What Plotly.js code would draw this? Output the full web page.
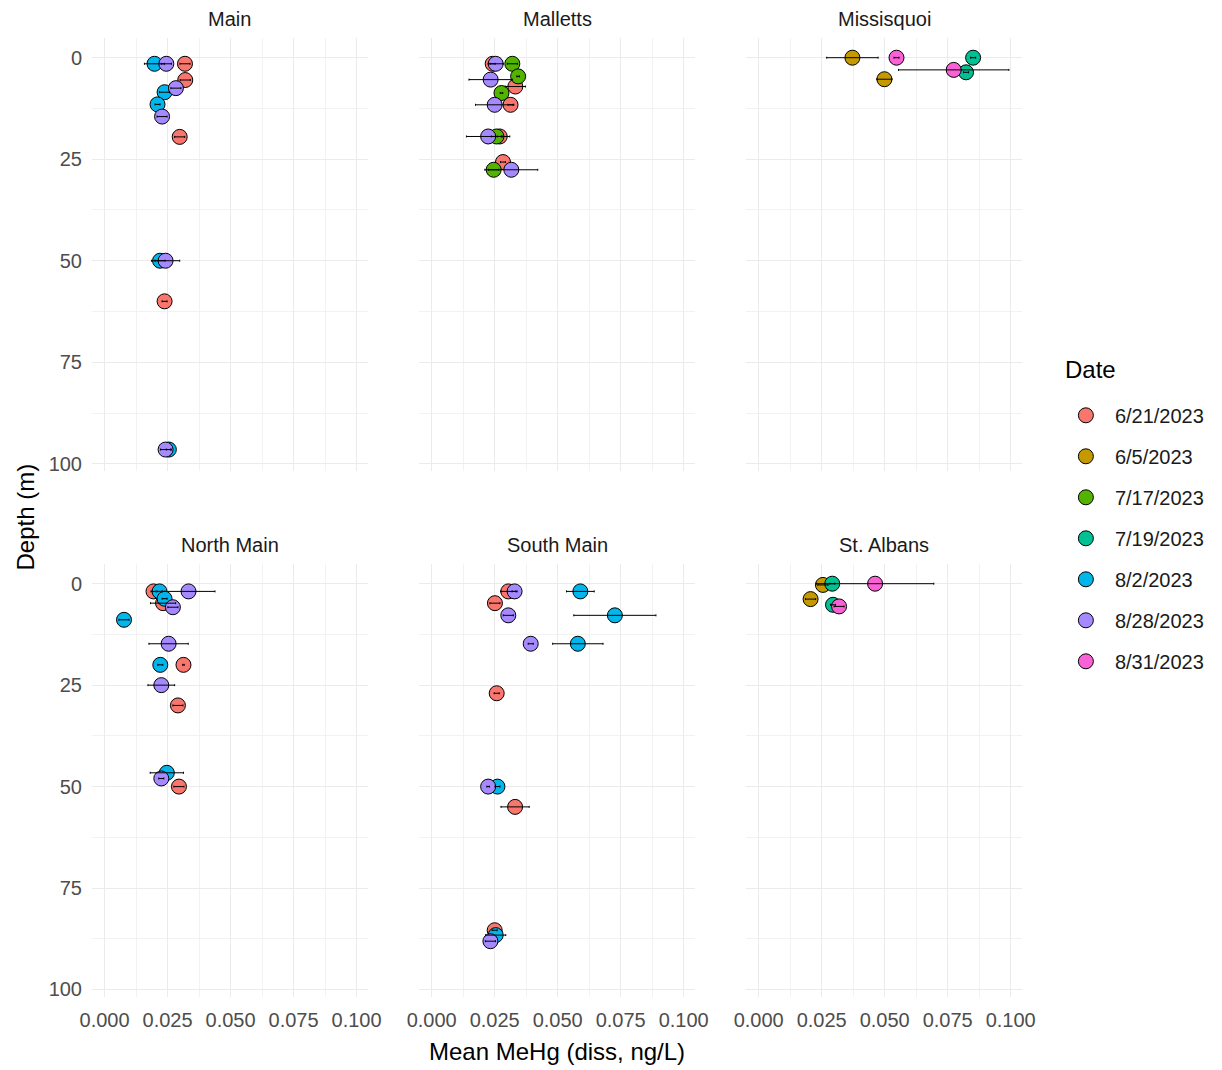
<!DOCTYPE html>
<html>
<head>
<meta charset="utf-8">
<script src="https://cdn.plot.ly/plotly-3.0.1.min.js"></script>
<style>html,body{margin:0;padding:0;background:#fff;}#chart{width:1222px;height:1070px;}</style>
</head>
<body>
<div id="chart"></div>
<script>
// ---- data ----
const sites = ['Main', 'Malletts', 'Missisquoi', 'North Main', 'South Main', 'St. Albans'];
const dates = ['6/21/2023', '6/5/2023', '7/17/2023', '7/19/2023', '8/2/2023', '8/28/2023', '8/31/2023'];

const site = [
  'Main','Main','Main','Main','Main','Main','Main','Main','Main','Main','Main','Main','Main','Main',
  'Malletts','Malletts','Malletts','Malletts','Malletts','Malletts','Malletts','Malletts','Malletts','Malletts','Malletts','Malletts','Malletts','Malletts','Malletts',
  'Missisquoi','Missisquoi','Missisquoi','Missisquoi','Missisquoi','Missisquoi',
  'North Main','North Main','North Main','North Main','North Main','North Main','North Main','North Main','North Main','North Main','North Main','North Main','North Main','North Main','North Main',
  'South Main','South Main','South Main','South Main','South Main','South Main','South Main','South Main','South Main','South Main','South Main','South Main','South Main','South Main','South Main',
  'St. Albans','St. Albans','St. Albans','St. Albans','St. Albans','St. Albans'
];
const date = [
  '8/2/2023','8/28/2023','6/21/2023','6/21/2023','8/28/2023','8/2/2023','8/2/2023','8/28/2023','6/21/2023','8/2/2023','8/28/2023','6/21/2023','8/2/2023','8/28/2023',
  '6/21/2023','8/28/2023','7/17/2023','7/17/2023','8/28/2023','6/21/2023','7/17/2023','8/28/2023','6/21/2023','8/28/2023','7/17/2023','6/21/2023','6/21/2023','7/17/2023','8/28/2023',
  '6/5/2023','8/31/2023','6/5/2023','7/19/2023','7/19/2023','8/31/2023',
  '6/21/2023','8/2/2023','8/28/2023','8/2/2023','6/21/2023','8/28/2023','8/2/2023','8/28/2023','8/2/2023','6/21/2023','8/28/2023','6/21/2023','8/2/2023','8/28/2023','6/21/2023',
  '6/21/2023','8/28/2023','8/2/2023','6/21/2023','8/28/2023','8/2/2023','8/28/2023','8/2/2023','6/21/2023','8/28/2023','8/2/2023','6/21/2023','6/21/2023','8/2/2023','8/28/2023',
  '6/5/2023','7/19/2023','8/31/2023','6/5/2023','7/19/2023','8/31/2023'
];
const depth = [
  1.5, 1.5, 1.5, 5.5, 7.5, 8.5, 11.5, 14.5, 19.5, 50, 50, 60, 96.5, 96.5,
  1.5, 1.5, 1.5, 4.6, 5.4, 7.1, 8.7, 11.6, 11.6, 19.4, 19.4, 19.4, 25.7, 27.6, 27.6,
  0, 0, 5.3, 0, 3.6, 3,
  1.9, 1.9, 1.9, 3.7, 4.8, 5.8, 8.9, 14.8, 20, 20, 25, 30, 46.6, 48, 50,
  1.9, 1.9, 1.9, 4.8, 7.8, 7.8, 14.8, 14.8, 27, 50, 50, 55, 85.4, 86.6, 88.1,
  0.3, 0, 0, 3.8, 5.2, 5.6
];
const mehg = [
  0.0198, 0.0245, 0.0319, 0.0320, 0.0283, 0.0238, 0.0210, 0.0228, 0.0298, 0.0220, 0.0242, 0.0238, 0.0255, 0.0242,
  0.0242, 0.0254, 0.0320, 0.0343, 0.0234, 0.0332, 0.0277, 0.0250, 0.0313, 0.0224, 0.0257, 0.0270, 0.0283, 0.0246, 0.0316,
  0.0372, 0.0547, 0.0499, 0.0851, 0.0823, 0.0774,
  0.0194, 0.0218, 0.0333, 0.0238, 0.0232, 0.0271, 0.0077, 0.0254, 0.0221, 0.0313, 0.0225, 0.0291, 0.0247, 0.0225, 0.0295,
  0.0304, 0.0329, 0.0590, 0.0251, 0.0304, 0.0727, 0.0393, 0.0580, 0.0258, 0.0224, 0.0261, 0.0331, 0.0250, 0.0254, 0.0233,
  0.0255, 0.0292, 0.0462, 0.0206, 0.0295, 0.0319
];
const sd = [
  0.0040, 0.0020, 0.0020, 0.0020, 0.0020, 0.0020, 0.0010, 0.0020, 0.0020, 0.0020, 0.0056, 0.0010, 0.0010, 0.0020,
  0.0010, 0.0030, 0.0020, 0.0005, 0.0086, 0.0040, 0.0005, 0.0076, 0.0010, 0.0086, 0.0020, 0.0010, 0.0010, 0.0020, 0.0105,
  0.0102, 0.0010, 0.0030, 0.0010, 0.0010, 0.0219,
  0.0010, 0.0010, 0.0105, 0.0010, 0.0050, 0.0020, 0.0020, 0.0078, 0.0010, 0.0003, 0.0053, 0.0020, 0.0066, 0.0010, 0.0020,
  0.0030, 0.0010, 0.0055, 0.0020, 0.0020, 0.0163, 0.0010, 0.0100, 0.0010, 0.0005, 0.0010, 0.0056, 0.0010, 0.0040, 0.0020,
  0.0020, 0.0010, 0.0233, 0.0020, 0.0010, 0.0020
];

const xTicks = [0, 0.025, 0.05, 0.075, 0.1];
const yTicks = [0, 25, 50, 75, 100];

// ---- styles ----
const dateColors = ['#F8766D', '#C49A00', '#53B400', '#00C094', '#00B6EB', '#A58AFF', '#FB61D7'];
const FONT = 'Liberation Sans, Arial, sans-serif';
const colDomains = [[0, 0.2967], [0.3517, 0.6484], [0.7033, 1]];
const rowDomains = [[0.5482, 1], [0, 0.4515]];

const traces = [];
const shownInLegend = {};
const layout = {
  width: 1222, height: 1070,
  margin: {l: 92.4, r: 199.7, t: 38, b: 72.5},
  paper_bgcolor: '#fff', plot_bgcolor: '#fff',
  font: {family: FONT, color: '#1A1A1A'},
  showlegend: true,
  legend: {
    x: 1.0375, xanchor: 'left', y: 0.6269, yanchor: 'top',
    font: {size: 20, color: '#1A1A1A'},
    tracegroupgap: 12, bgcolor: 'rgba(0,0,0,0)', itemwidth: 48
  },
  annotations: [],
  hovermode: false
};

sites.forEach((s, i) => {
  const col = i % 3, row = Math.floor(i / 3);
  const xa = i === 0 ? 'x' : 'x' + (i + 1);
  const ya = i === 0 ? 'y' : 'y' + (i + 1);
  const xkey = i === 0 ? 'xaxis' : 'xaxis' + (i + 1);
  const ykey = i === 0 ? 'yaxis' : 'yaxis' + (i + 1);
  layout[xkey] = {
    domain: colDomains[col], anchor: ya, range: [-0.005, 0.1045],
    tickmode: 'array', tickvals: xTicks, ticktext: xTicks.map(v => v.toFixed(3)),
    showticklabels: row === 1, ticks: '', ticklabelstandoff: 9,
    tickfont: {family: FONT, size: 20, color: '#4D4D4D'},
    showgrid: true, gridcolor: '#EBEBEB', gridwidth: 1,
    minor: {tickmode: 'array', tickvals: [0.0125, 0.0375, 0.0625, 0.0875], showgrid: true, gridcolor: '#EFEFEF', gridwidth: 0.8},
    zeroline: false, showline: false, fixedrange: true
  };
  layout[ykey] = {
    domain: rowDomains[row], anchor: xa, range: [101.85, -4.85],
    tickmode: 'array', tickvals: yTicks, ticktext: yTicks.map(String),
    showticklabels: col === 0, ticks: '', ticklabelstandoff: 9,
    tickfont: {family: FONT, size: 20, color: '#4D4D4D'},
    showgrid: true, gridcolor: '#EBEBEB', gridwidth: 1,
    minor: {tickmode: 'array', tickvals: [12.5, 37.5, 62.5, 87.5], showgrid: true, gridcolor: '#EFEFEF', gridwidth: 0.8},
    zeroline: false, showline: false, fixedrange: true
  };
  // strip label
  layout.annotations.push({
    text: s, xref: 'paper', yref: 'paper',
    x: (colDomains[col][0] + colDomains[col][1]) / 2, y: rowDomains[row][1],
    xanchor: 'center', yanchor: 'middle', yshift: 19, showarrow: false,
    font: {family: FONT, size: 20, color: '#1A1A1A'}
  });

  // points, one trace per date
  dates.forEach((d, k) => {
    const idx = [];
    site.forEach((ss, j) => { if (ss === s && date[j] === d) idx.push(j); });
    if (!idx.length) return;
    const first = !shownInLegend[d];
    shownInLegend[d] = true;
    traces.push({
      type: 'scatter', mode: 'markers', xaxis: xa, yaxis: ya,
      x: idx.map(j => mehg[j]), y: idx.map(j => depth[j]),
      name: d, legendgroup: d, showlegend: first, legendrank: k + 1,
      marker: {size: 15, color: dateColors[k], line: {color: '#000', width: 1}},
      cliponaxis: false
    });
  });
  // error bars (drawn on top of points)
  const all = [];
  site.forEach((ss, j) => { if (ss === s) all.push(j); });
  traces.push({
    type: 'scatter', mode: 'markers', xaxis: xa, yaxis: ya,
    x: all.map(j => mehg[j]), y: all.map(j => depth[j]),
    showlegend: false, hoverinfo: 'skip',
    marker: {size: 1, opacity: 0},
    error_x: {type: 'data', array: all.map(j => sd[j]), visible: true, color: '#000', thickness: 1, width: 1},
    cliponaxis: false
  });
});

// axis titles and legend title
layout.annotations.push({
  text: 'Mean MeHg (diss, ng/L)', xref: 'paper', yref: 'paper', x: 0.5, y: 0,
  xanchor: 'center', yanchor: 'middle', yshift: -54, showarrow: false,
  font: {family: FONT, size: 24, color: '#000'}
});
layout.annotations.push({
  text: 'Depth (m)', xref: 'paper', yref: 'paper', x: 0, y: 0.5, textangle: -90,
  xanchor: 'center', yanchor: 'middle', xshift: -67, showarrow: false,
  font: {family: FONT, size: 24, color: '#000'}
});
layout.annotations.push({
  text: 'Date', xref: 'paper', yref: 'paper', x: 1.0438, y: 1 - (370 - 38) / 959.5,
  xanchor: 'left', yanchor: 'middle', showarrow: false,
  font: {family: FONT, size: 24, color: '#000'}
});

Plotly.newPlot('chart', traces, layout, {displayModeBar: false, staticPlot: true});
</script>
</body>
</html>
